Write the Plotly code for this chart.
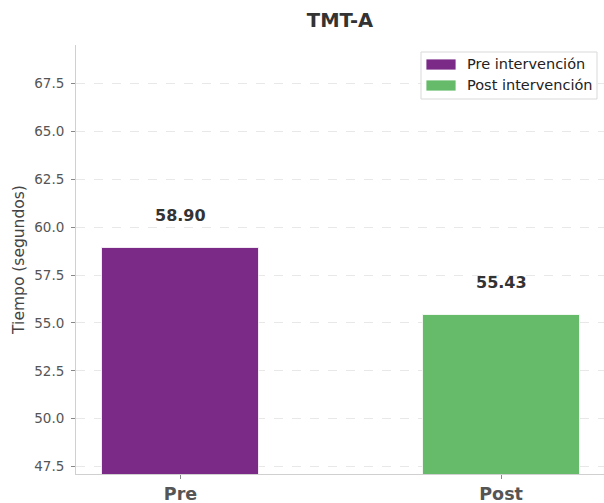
import plotly.graph_objects as go

# Datos del TMT-A (tiempo medio en segundos)
categorias = ["Pre", "Post"]
tiempos = [58.90, 55.43]
series = ["Pre intervención", "Post intervención"]
colores = ["#7B2A87", "#66BB6A"]
ticks_y = [47.5, 50.0, 52.5, 55.0, 57.5, 60.0, 62.5, 65.0, 67.5]

W, H = 604, 503
L, R, T, B = 76, 0, 45, 29
pw, ph = W - L - R, H - T - B

def px_x(p):
    return (p - L) / pw

def px_y(p):
    return (H - B - p) / ph

FONT = "DejaVu Sans"
fig = go.Figure()

for cat, val, name, col in zip(categorias, tiempos, series, colores):
    fig.add_trace(go.Bar(
        x=[cat], y=[val], name=name, width=0.49,
        marker=dict(color=col, line=dict(color="rgba(255,255,255,0.8)", width=1)),
        showlegend=False,
    ))
    fig.add_annotation(
        x=cat, y=val, text=f"<b>{val:.2f}</b>", showarrow=False,
        yanchor="bottom", yshift=21,
        font=dict(family=FONT, size=16, color="#333333"),
    )

ymin = min(tiempos) * 0.85
ymax = max(tiempos) * 1.18

# Leyenda dibujada en coordenadas de papel
fig.add_shape(type="rect", xref="paper", yref="paper",
              x0=px_x(421), x1=px_x(597), y0=px_y(99), y1=px_y(52),
              line=dict(color="#d9d9d9", width=1), fillcolor="rgba(255,255,255,0.85)",
              layer="above")
for i, (name, col) in enumerate(zip(series, colores)):
    top = 59 + i * 21
    fig.add_shape(type="rect", xref="paper", yref="paper",
                  x0=px_x(426), x1=px_x(456), y0=px_y(top + 11), y1=px_y(top),
                  line=dict(color="rgba(255,255,255,0.8)", width=1), fillcolor=col,
                  layer="above")
    fig.add_annotation(xref="paper", yref="paper", x=px_x(465), y=px_y(top + 5.5),
                       text=name, showarrow=False, xanchor="left", yanchor="middle",
                       font=dict(family=FONT, size=14.5, color="#222222"))

fig.update_layout(
    width=W, height=H,
    margin=dict(l=L, r=R, t=T, b=B),
    paper_bgcolor="white", plot_bgcolor="white",
    font=dict(family=FONT, color="#555555"),
    title=dict(text="<b>TMT-A</b>", x=0.5, xref="paper", xanchor="center",
               y=1 - 20 / H, yanchor="middle", yref="container",
               font=dict(family=FONT, size=19.5, color="#333333")),
    bargap=0,
)

fig.update_xaxes(
    type="category", range=[-0.326, 1.321],
    showline=True, linecolor="#d0d0d0", linewidth=1,
    ticks="outside", ticklen=4, tickcolor="#888888",
    tickfont=dict(family=FONT, size=17.5, color="#555555"),
    ticktext=[f"<b>{c}</b>" for c in categorias], tickvals=categorias,
    showgrid=False, zeroline=False,
)
fig.update_yaxes(
    range=[ymin, ymax], tickvals=ticks_y, tickformat=".1f",
    showline=True, linecolor="#d0d0d0", linewidth=1,
    ticks="outside", ticklen=4, tickcolor="#888888", ticklabelstandoff=4,
    tickfont=dict(family=FONT, size=13.5, color="#555555"),
    showgrid=True, gridcolor="#e8e8e8", gridwidth=1, griddash="dash",
    zeroline=False,
    title=dict(text="Tiempo (segundos)", standoff=5,
               font=dict(family=FONT, size=15.5, color="#444444")),
)

fig.write_html("out.html")
